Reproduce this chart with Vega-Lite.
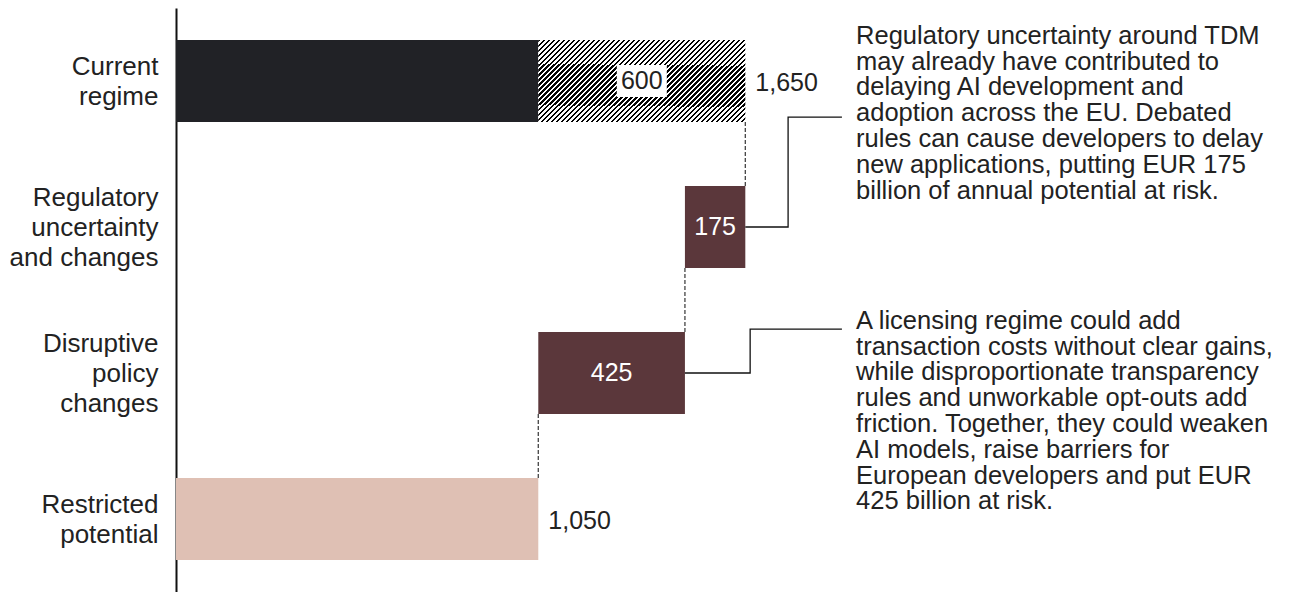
{
"$schema": "https://vega.github.io/schema/vega-lite/v6.json",
"width": 1130,
"height": 584,
"autosize": {"type": "none"},
"padding": {"left": 176, "top": 8, "right": 0, "bottom": 0},
"background": "#ffffff",
"config": {"view": {"stroke": null}, "font": "Liberation Sans"},
"datasets": {
  "bars": [
    {"stage": "Current regime", "row": 0, "part": "base", "start": 0, "end": 1050},
    {"stage": "Current regime", "row": 0, "part": "hatch", "start": 1050, "end": 1650},
    {"stage": "Regulatory uncertainty and changes", "row": 1, "part": "loss", "start": 1475, "end": 1650},
    {"stage": "Disruptive policy changes", "row": 2, "part": "loss", "start": 1050, "end": 1475},
    {"stage": "Restricted potential", "row": 3, "part": "result", "start": 0, "end": 1050}
  ],
  "links": [
    {"start": 1650, "row": 0, "row2": 1},
    {"start": 1475, "row": 1, "row2": 2},
    {"start": 1050, "row": 2, "row2": 3}
  ],
  "callouts": [
    {"id": "a", "order": 1, "start": 1650, "row": 1},
    {"id": "a", "order": 2, "start": 1774, "row": 1},
    {"id": "a", "order": 3, "start": 1774, "row": 0.247},
    {"id": "a", "order": 4, "start": 1930, "row": 0.247},
    {"id": "b", "order": 1, "start": 1475, "row": 2},
    {"id": "b", "order": 2, "start": 1664, "row": 2},
    {"id": "b", "order": 3, "start": 1664, "row": 1.699},
    {"id": "b", "order": 4, "start": 1930, "row": 1.699}
  ],
  "inner": [
    {"row": 0, "value": 600, "start": 1050, "end": 1650, "tone": "light"},
    {"row": 1, "value": 175, "start": 1475, "end": 1650, "tone": "dark"},
    {"row": 2, "value": 425, "start": 1050, "end": 1475, "tone": "dark"}
  ],
  "totals": [
    {"row": 0, "end": 1650, "value": 1650},
    {"row": 3, "end": 1050, "value": 1050}
  ],
  "notes": [
    {"start": 1971, "row": -0.31, "note": "Regulatory uncertainty around TDM\nmay already have contributed to\ndelaying AI development and\nadoption across the EU. Debated\nrules can cause developers to delay\nnew applications, putting EUR 175\nbillion of annual potential at risk."},
    {"start": 1971, "row": 1.642, "note": "A licensing regime could add\ntransaction costs without clear gains,\nwhile disproportionate transparency\nrules and unworkable opt-outs add\nfriction. Together, they could weaken\nAI models, raise barriers for\nEuropean developers and put EUR\n425 billion at risk."}
  ]
},
"encoding": {
  "y": {
    "field": "row", "type": "quantitative",
    "scale": {"domain": [-0.5, 3.5], "reverse": true, "nice": false, "zero": false, "padding": 0},
    "axis": {
      "values": [0, 1, 2, 3],
      "labelExpr": "datum.value == 0 ? ['Current','regime'] : datum.value == 1 ? ['Regulatory','uncertainty','and changes'] : datum.value == 2 ? ['Disruptive','policy','changes'] : ['Restricted','potential']",
      "title": null, "ticks": false, "grid": false,
      "domainColor": "#111111", "domainWidth": 2,
      "labelFont": "Liberation Sans", "labelFontSize": 26, "labelColor": "#222222",
      "labelLineHeight": 30, "labelPadding": 18, "labelAlign": "right", "labelBaseline": "middle",
      "labelOffset": {"condition": {"test": "datum.value == 1 || datum.value == 2", "value": -30}, "value": -15},
      "labelLimit": 0, "labelFlush": false, "labelOverlap": false
    }
  }
},
"layer": [
  {
    "data": {"name": "bars"},
    "transform": [{"filter": "datum.part != 'hatch'"}],
    "mark": {"type": "bar", "orient": "horizontal", "size": 82},
    "encoding": {
      "x": {"field": "start", "type": "quantitative", "scale": {"domain": [0, 3275], "nice": false, "zero": false, "padding": 0}, "axis": null},
      "x2": {"field": "end"},
      "color": {"field": "part", "type": "nominal", "scale": {"domain": ["base", "loss", "result"], "range": ["#212226", "#5b373b", "#dfc0b4"]}, "legend": null}
    }
  },
  {
    "data": {"name": "bars"},
    "transform": [{"filter": "datum.part == 'hatch'"}],
    "mark": {"type": "bar", "orient": "horizontal", "size": 82, "fill": {
      "gradient": "linear", "x1": 0, "y1": 0, "x2": 1.3873, "y2": 0.5562,
      "stops": [
        {"offset": 0, "color": "#000"}, {"offset": 0.0075, "color": "#000"}, {"offset": 0.0075, "color": "#fff"}, {"offset": 0.015, "color": "#fff"},
        {"offset": 0.015, "color": "#000"}, {"offset": 0.0225, "color": "#000"}, {"offset": 0.0225, "color": "#fff"}, {"offset": 0.03, "color": "#fff"},
        {"offset": 0.03, "color": "#000"}, {"offset": 0.0375, "color": "#000"}, {"offset": 0.0375, "color": "#fff"}, {"offset": 0.045, "color": "#fff"},
        {"offset": 0.045, "color": "#000"}, {"offset": 0.0525, "color": "#000"}, {"offset": 0.0525, "color": "#fff"}, {"offset": 0.06, "color": "#fff"},
        {"offset": 0.06, "color": "#000"}, {"offset": 0.0675, "color": "#000"}, {"offset": 0.0675, "color": "#fff"}, {"offset": 0.075, "color": "#fff"},
        {"offset": 0.075, "color": "#000"}, {"offset": 0.0825, "color": "#000"}, {"offset": 0.0825, "color": "#fff"}, {"offset": 0.09, "color": "#fff"},
        {"offset": 0.09, "color": "#000"}, {"offset": 0.0975, "color": "#000"}, {"offset": 0.0975, "color": "#fff"}, {"offset": 0.105, "color": "#fff"},
        {"offset": 0.105, "color": "#000"}, {"offset": 0.1125, "color": "#000"}, {"offset": 0.1125, "color": "#fff"}, {"offset": 0.12, "color": "#fff"},
        {"offset": 0.12, "color": "#000"}, {"offset": 0.1275, "color": "#000"}, {"offset": 0.1275, "color": "#fff"}, {"offset": 0.135, "color": "#fff"},
        {"offset": 0.135, "color": "#000"}, {"offset": 0.1425, "color": "#000"}, {"offset": 0.1425, "color": "#fff"}, {"offset": 0.15, "color": "#fff"},
        {"offset": 0.15, "color": "#000"}, {"offset": 0.1575, "color": "#000"}, {"offset": 0.1575, "color": "#fff"}, {"offset": 0.165, "color": "#fff"},
        {"offset": 0.165, "color": "#000"}, {"offset": 0.1725, "color": "#000"}, {"offset": 0.1725, "color": "#fff"}, {"offset": 0.18, "color": "#fff"},
        {"offset": 0.18, "color": "#000"}, {"offset": 0.1875, "color": "#000"}, {"offset": 0.1875, "color": "#fff"}, {"offset": 0.195, "color": "#fff"},
        {"offset": 0.195, "color": "#000"}, {"offset": 0.2025, "color": "#000"}, {"offset": 0.2025, "color": "#fff"}, {"offset": 0.21, "color": "#fff"},
        {"offset": 0.21, "color": "#000"}, {"offset": 0.2175, "color": "#000"}, {"offset": 0.2175, "color": "#fff"}, {"offset": 0.225, "color": "#fff"},
        {"offset": 0.225, "color": "#000"}, {"offset": 0.2325, "color": "#000"}, {"offset": 0.2325, "color": "#fff"}, {"offset": 0.24, "color": "#fff"},
        {"offset": 0.24, "color": "#000"}, {"offset": 0.2475, "color": "#000"}, {"offset": 0.2475, "color": "#fff"}, {"offset": 0.255, "color": "#fff"},
        {"offset": 0.255, "color": "#000"}, {"offset": 0.2625, "color": "#000"}, {"offset": 0.2625, "color": "#fff"}, {"offset": 0.27, "color": "#fff"},
        {"offset": 0.27, "color": "#000"}, {"offset": 0.2775, "color": "#000"}, {"offset": 0.2775, "color": "#fff"}, {"offset": 0.285, "color": "#fff"},
        {"offset": 0.285, "color": "#000"}, {"offset": 0.2925, "color": "#000"}, {"offset": 0.2925, "color": "#fff"}, {"offset": 0.3, "color": "#fff"},
        {"offset": 0.3, "color": "#000"}, {"offset": 0.3075, "color": "#000"}, {"offset": 0.3075, "color": "#fff"}, {"offset": 0.315, "color": "#fff"},
        {"offset": 0.315, "color": "#000"}, {"offset": 0.3225, "color": "#000"}, {"offset": 0.3225, "color": "#fff"}, {"offset": 0.33, "color": "#fff"},
        {"offset": 0.33, "color": "#000"}, {"offset": 0.3375, "color": "#000"}, {"offset": 0.3375, "color": "#fff"}, {"offset": 0.345, "color": "#fff"},
        {"offset": 0.345, "color": "#000"}, {"offset": 0.3525, "color": "#000"}, {"offset": 0.3525, "color": "#fff"}, {"offset": 0.36, "color": "#fff"},
        {"offset": 0.36, "color": "#000"}, {"offset": 0.3675, "color": "#000"}, {"offset": 0.3675, "color": "#fff"}, {"offset": 0.375, "color": "#fff"},
        {"offset": 0.375, "color": "#000"}, {"offset": 0.3825, "color": "#000"}, {"offset": 0.3825, "color": "#fff"}, {"offset": 0.39, "color": "#fff"},
        {"offset": 0.39, "color": "#000"}, {"offset": 0.3975, "color": "#000"}, {"offset": 0.3975, "color": "#fff"}, {"offset": 0.405, "color": "#fff"},
        {"offset": 0.405, "color": "#000"}, {"offset": 0.4125, "color": "#000"}, {"offset": 0.4125, "color": "#fff"}, {"offset": 0.42, "color": "#fff"},
        {"offset": 0.42, "color": "#000"}, {"offset": 0.4275, "color": "#000"}, {"offset": 0.4275, "color": "#fff"}, {"offset": 0.435, "color": "#fff"},
        {"offset": 0.435, "color": "#000"}, {"offset": 0.4425, "color": "#000"}, {"offset": 0.4425, "color": "#fff"}, {"offset": 0.45, "color": "#fff"},
        {"offset": 0.45, "color": "#000"}, {"offset": 0.4575, "color": "#000"}, {"offset": 0.4575, "color": "#fff"}, {"offset": 0.465, "color": "#fff"},
        {"offset": 0.465, "color": "#000"}, {"offset": 0.4725, "color": "#000"}, {"offset": 0.4725, "color": "#fff"}, {"offset": 0.48, "color": "#fff"},
        {"offset": 0.48, "color": "#000"}, {"offset": 0.4875, "color": "#000"}, {"offset": 0.4875, "color": "#fff"}, {"offset": 0.495, "color": "#fff"},
        {"offset": 0.495, "color": "#000"}, {"offset": 0.5025, "color": "#000"}, {"offset": 0.5025, "color": "#fff"}, {"offset": 0.51, "color": "#fff"},
        {"offset": 0.51, "color": "#000"}, {"offset": 0.5175, "color": "#000"}, {"offset": 0.5175, "color": "#fff"}, {"offset": 0.525, "color": "#fff"},
        {"offset": 0.525, "color": "#000"}, {"offset": 0.5325, "color": "#000"}, {"offset": 0.5325, "color": "#fff"}, {"offset": 0.54, "color": "#fff"},
        {"offset": 0.54, "color": "#000"}, {"offset": 0.5475, "color": "#000"}, {"offset": 0.5475, "color": "#fff"}, {"offset": 0.555, "color": "#fff"},
        {"offset": 0.555, "color": "#000"}, {"offset": 0.5625, "color": "#000"}, {"offset": 0.5625, "color": "#fff"}, {"offset": 0.57, "color": "#fff"},
        {"offset": 0.57, "color": "#000"}, {"offset": 0.5775, "color": "#000"}, {"offset": 0.5775, "color": "#fff"}, {"offset": 0.585, "color": "#fff"},
        {"offset": 0.585, "color": "#000"}, {"offset": 0.5925, "color": "#000"}, {"offset": 0.5925, "color": "#fff"}, {"offset": 0.6, "color": "#fff"},
        {"offset": 0.6, "color": "#000"}, {"offset": 0.6075, "color": "#000"}, {"offset": 0.6075, "color": "#fff"}, {"offset": 0.615, "color": "#fff"},
        {"offset": 0.615, "color": "#000"}, {"offset": 0.6225, "color": "#000"}, {"offset": 0.6225, "color": "#fff"}, {"offset": 0.63, "color": "#fff"},
        {"offset": 0.63, "color": "#000"}, {"offset": 0.6375, "color": "#000"}, {"offset": 0.6375, "color": "#fff"}, {"offset": 0.645, "color": "#fff"},
        {"offset": 0.645, "color": "#000"}, {"offset": 0.6525, "color": "#000"}, {"offset": 0.6525, "color": "#fff"}, {"offset": 0.66, "color": "#fff"},
        {"offset": 0.66, "color": "#000"}, {"offset": 0.6675, "color": "#000"}, {"offset": 0.6675, "color": "#fff"}, {"offset": 0.675, "color": "#fff"},
        {"offset": 0.675, "color": "#000"}, {"offset": 0.6825, "color": "#000"}, {"offset": 0.6825, "color": "#fff"}, {"offset": 0.69, "color": "#fff"},
        {"offset": 0.69, "color": "#000"}, {"offset": 0.6975, "color": "#000"}, {"offset": 0.6975, "color": "#fff"}, {"offset": 0.705, "color": "#fff"},
        {"offset": 0.705, "color": "#000"}, {"offset": 0.7125, "color": "#000"}, {"offset": 0.7125, "color": "#fff"}, {"offset": 0.72, "color": "#fff"},
        {"offset": 0.72, "color": "#000"}, {"offset": 0.7275, "color": "#000"}, {"offset": 0.7275, "color": "#fff"}, {"offset": 0.735, "color": "#fff"},
        {"offset": 0.735, "color": "#000"}, {"offset": 0.7425, "color": "#000"}, {"offset": 0.7425, "color": "#fff"}, {"offset": 0.75, "color": "#fff"},
        {"offset": 0.75, "color": "#000"}, {"offset": 0.7575, "color": "#000"}, {"offset": 0.7575, "color": "#fff"}, {"offset": 0.765, "color": "#fff"},
        {"offset": 0.765, "color": "#000"}, {"offset": 0.7725, "color": "#000"}, {"offset": 0.7725, "color": "#fff"}, {"offset": 0.78, "color": "#fff"},
        {"offset": 0.78, "color": "#000"}, {"offset": 0.7875, "color": "#000"}, {"offset": 0.7875, "color": "#fff"}, {"offset": 0.795, "color": "#fff"},
        {"offset": 0.795, "color": "#000"}, {"offset": 0.8025, "color": "#000"}, {"offset": 0.8025, "color": "#fff"}, {"offset": 0.81, "color": "#fff"},
        {"offset": 0.81, "color": "#000"}, {"offset": 0.8175, "color": "#000"}, {"offset": 0.8175, "color": "#fff"}, {"offset": 0.825, "color": "#fff"},
        {"offset": 0.825, "color": "#000"}, {"offset": 0.8325, "color": "#000"}, {"offset": 0.8325, "color": "#fff"}, {"offset": 0.84, "color": "#fff"},
        {"offset": 0.84, "color": "#000"}, {"offset": 0.8475, "color": "#000"}, {"offset": 0.8475, "color": "#fff"}, {"offset": 0.855, "color": "#fff"},
        {"offset": 0.855, "color": "#000"}, {"offset": 0.8625, "color": "#000"}, {"offset": 0.8625, "color": "#fff"}, {"offset": 0.87, "color": "#fff"},
        {"offset": 0.87, "color": "#000"}, {"offset": 0.8775, "color": "#000"}, {"offset": 0.8775, "color": "#fff"}, {"offset": 1, "color": "#fff"}
      ]
    }},
    "encoding": {
      "x": {"field": "start", "type": "quantitative", "scale": {"domain": [0, 3275], "nice": false, "zero": false, "padding": 0}, "axis": null},
      "x2": {"field": "end"}
    }
  },
  {
    "data": {"name": "links"},
    "mark": {"type": "rule", "color": "#444444", "strokeWidth": 1.3, "strokeDash": [4, 2], "yOffset": 41, "y2Offset": -41},
    "encoding": {
      "x": {"field": "start", "type": "quantitative", "scale": {"domain": [0, 3275], "nice": false, "zero": false, "padding": 0}, "axis": null},
      "y2": {"field": "row2"}
    }
  },
  {
    "data": {"name": "callouts"},
    "mark": {"type": "line", "color": "#111111", "strokeWidth": 1.3},
    "encoding": {
      "x": {"field": "start", "type": "quantitative", "scale": {"domain": [0, 3275], "nice": false, "zero": false, "padding": 0}, "axis": null},
      "order": {"field": "order", "type": "quantitative"},
      "detail": {"field": "id", "type": "nominal"}
    }
  },
  {
    "data": {"name": "inner"},
    "transform": [
      {"filter": "datum.tone == 'light'"},
      {"fold": ["start", "end"], "as": ["edge", "pos"]},
      {"aggregate": [{"op": "mean", "field": "pos", "as": "mid"}], "groupby": ["row", "value", "tone"]}
    ],
    "mark": {"type": "point", "shape": "M-1,-0.64H1V0.64H-1Z", "filled": true, "color": "#ffffff", "opacity": 1, "size": 2500, "strokeWidth": 0},
    "encoding": {
      "x": {"field": "mid", "type": "quantitative", "scale": {"domain": [0, 3275], "nice": false, "zero": false, "padding": 0}, "axis": null}
    }
  },
  {
    "data": {"name": "inner"},
    "transform": [
      {"fold": ["start", "end"], "as": ["edge", "pos"]},
      {"aggregate": [{"op": "mean", "field": "pos", "as": "mid"}], "groupby": ["row", "value", "tone"]}
    ],
    "mark": {"type": "text", "font": "Liberation Sans", "fontSize": 25, "align": "center", "baseline": "middle"},
    "encoding": {
      "x": {"field": "mid", "type": "quantitative", "scale": {"domain": [0, 3275], "nice": false, "zero": false, "padding": 0}, "axis": null},
      "text": {"field": "value", "type": "quantitative", "format": ","},
      "color": {"condition": {"test": "datum.tone == 'light'", "value": "#222222"}, "value": "#ffffff"}
    }
  },
  {
    "data": {"name": "totals"},
    "mark": {"type": "text", "font": "Liberation Sans", "fontSize": 25, "align": "left", "baseline": "middle", "dx": 10, "dy": 2, "color": "#222222"},
    "encoding": {
      "x": {"field": "end", "type": "quantitative", "scale": {"domain": [0, 3275], "nice": false, "zero": false, "padding": 0}, "axis": null},
      "text": {"field": "value", "type": "quantitative", "format": ","}
    }
  },
  {
    "data": {"name": "notes"},
    "mark": {"type": "text", "font": "Liberation Sans", "fontSize": 25.5, "align": "left", "baseline": "middle", "lineBreak": "\n", "lineHeight": 25.8, "color": "#222222"},
    "encoding": {
      "x": {"field": "start", "type": "quantitative", "scale": {"domain": [0, 3275], "nice": false, "zero": false, "padding": 0}, "axis": null},
      "text": {"field": "note", "type": "nominal"}
    }
  }
]
}
